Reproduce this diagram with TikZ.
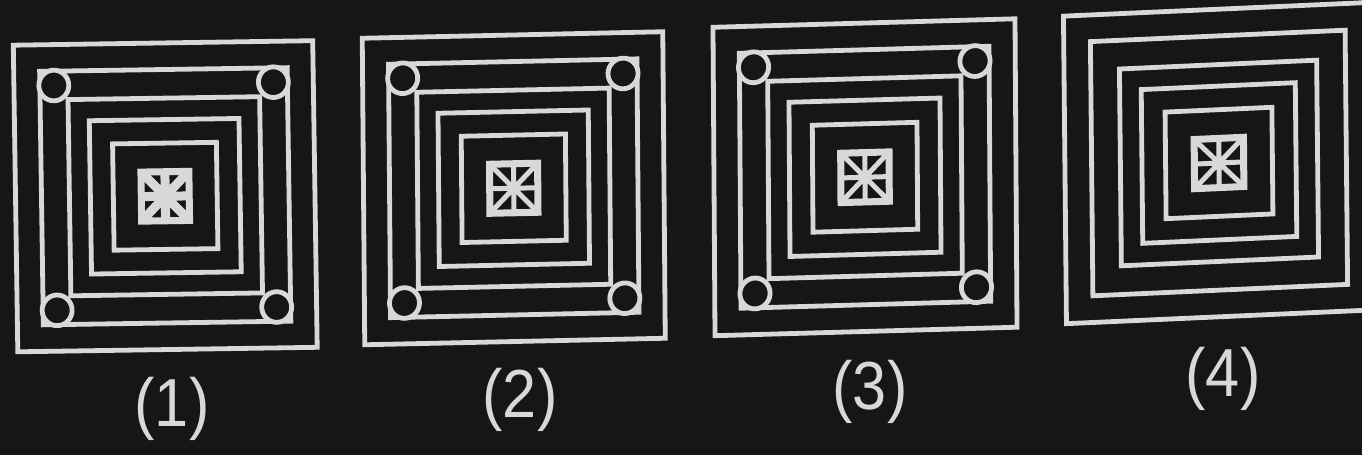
\documentclass[tikz,border=0pt]{standalone}
\usepackage{fontspec}
\setmainfont{Liberation Sans}
\definecolor{bg}{HTML}{161616}
\definecolor{ln}{HTML}{D8D8D8}
\tikzset{
  sq/.style={draw=ln, line width=4.8pt},
  dot/.style={draw=ln, fill=bg, line width=4.8pt},
  core/.style={draw=ln, fill=bg, line width=7pt},
  spoke/.style={draw=ln, line width=5pt},
  lab/.style={text=ln, inner sep=0pt, xscale=0.9, font=\fontsize{68}{76}\selectfont}
}
% squares common to all four figures
\newcommand\frameset{%
  \foreach \s in {150,124,96,75,52} \draw[sq] (-\s,-\s) rectangle (\s,\s);
}
\newcommand\cornerdots{%
  \foreach \cx in {-110,110} \foreach \cy in {-110,110} \draw[dot] (\cx,\cy) circle (15);
}
\newcommand\starcore[1]{%
  \draw[core] (-24,-24) rectangle (24,24);
  \draw[spoke, line width=#1] (-24,-24) -- (24,24) (-24,24) -- (24,-24)
        (-24,0) -- (24,0) (0,-24) -- (0,24);
}
\begin{document}
\begin{tikzpicture}[x=1pt, y=-1pt]
\useasboundingbox (0,0) rectangle (1362,455);
\fill[bg] (0,0) rectangle (1362,455);

% figure 1
\begin{scope}[cm={0.998,0.015,-0.015,1.022,(165.25,196.25)}]
  \frameset
  \cornerdots
  \starcore{9pt}
  \fill[ln] (0,0) circle (9);
\end{scope}

% figure 2
\begin{scope}[cm={1.0017,0.0217,-0.0083,1.0217,(513.75,188.25)}]
  \frameset
  \cornerdots
  \starcore{5pt}
\end{scope}

% figure 3
\begin{scope}[cm={1.0067,0.0283,-0.0067,1.028,(865,177.25)}]
  \frameset
  \cornerdots
  \starcore{5pt}
\end{scope}

% figure 4
\begin{scope}[cm={1.027,0.046,-0.01,1.025,(1219,163)}]
  \frameset
  \starcore{5pt}
\end{scope}

\node[lab] (l1) at (172,409) {(1)};
\node[lab] (l2) at (520,400) {(2)};
\node[lab] (l3) at (870,392) {(3)};
\node[lab] (l4) at (1223,379) {(4)};
\end{tikzpicture}
\end{document}
